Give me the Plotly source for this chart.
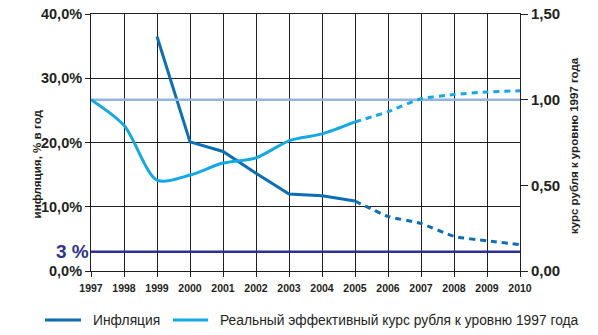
import plotly.graph_objects as go

# Годы и показатели
years = [1997, 1998, 1999, 2000, 2001, 2002, 2003, 2004, 2005, 2006, 2007, 2008, 2009, 2010]

# Инфляция, % в год (факт 1999–2005, прогноз 2005–2010)
infl_years_fact = [1999, 2000, 2001, 2002, 2003, 2004, 2005]
infl_fact = [36.5, 20.1, 18.6, 15.2, 12.0, 11.7, 10.9]
infl_years_fcst = [2005, 2006, 2007, 2008, 2009, 2010]
infl_fcst = [10.9, 8.5, 7.4, 5.4, 4.7, 4.1]

# Реальный эффективный курс рубля к уровню 1997 года
reer_years_fact = [1997, 1998, 1999, 2000, 2001, 2002, 2003, 2004, 2005]
reer_fact = [1.00, 0.85, 0.53, 0.56, 0.63, 0.66, 0.76, 0.80, 0.87]
reer_years_fcst = [2005, 2006, 2007, 2008, 2009, 2010]
reer_fcst = [0.87, 0.93, 1.005, 1.03, 1.045, 1.052]

target_inflation = 3.0
reer_base = 1.0

y_ticks = [0, 10, 20, 30, 40]
y_ticktext = ["0,0%", "10,0%", "20,0%", "30,0%", "40,0%"]
y2_ticks = [0, 0.5, 1.0, 1.5]
y2_ticktext = ["0,00", "0,50", "1,00", "1,50"]

legend_names = ["Инфляция", "Реальный эффективный курс рубля к уровню 1997 года"]

C_INFL = "#0a6fb5"
C_REER = "#12a9e6"
C_BASE = "#94b5e0"
C_TARGET = "#2e3192"
C_GRID = "#231f20"
FONT = "Liberation Sans"

# Поля области построения, px
L, R, T, B = 91, 78, 14, 64
W, H = 598, 335
PW, PH = W - L - R, H - T - B


def px_x(px):
    return (px - L) / PW


def px_y(py):
    return (H - B - py) / PH


fig = go.Figure()

# Базовый уровень курса (1997 = 1,00)
fig.add_trace(go.Scatter(
    x=[years[0], years[-1]], y=[reer_base, reer_base], yaxis="y2",
    mode="lines", line=dict(color=C_BASE, width=2.5), hoverinfo="skip"))

# Целевой уровень инфляции 3%
fig.add_trace(go.Scatter(
    x=[years[0], years[-1]], y=[target_inflation, target_inflation],
    mode="lines", line=dict(color=C_TARGET, width=2.5), hoverinfo="skip"))

fig.add_trace(go.Scatter(
    x=infl_years_fact, y=infl_fact, mode="lines",
    line=dict(color=C_INFL, width=3), name=legend_names[0]))
fig.add_trace(go.Scatter(
    x=infl_years_fcst, y=infl_fcst, mode="lines",
    line=dict(color=C_INFL, width=3, dash="6px,5px", shape="spline", smoothing=0.6)))

fig.add_trace(go.Scatter(
    x=reer_years_fact, y=reer_fact, yaxis="y2", mode="lines",
    line=dict(color=C_REER, width=3, shape="spline", smoothing=0.8),
    name=legend_names[1]))
fig.add_trace(go.Scatter(
    x=reer_years_fcst, y=reer_fcst, yaxis="y2", mode="lines",
    line=dict(color=C_REER, width=3, dash="6px,5px", shape="spline", smoothing=0.6)))

fig.update_layout(
    width=W, height=H,
    margin=dict(l=L, r=R, t=T, b=B, autoexpand=False),
    paper_bgcolor="white", plot_bgcolor="white",
    font=dict(family=FONT, color="#231f20"),
    showlegend=False,
    xaxis=dict(
        range=[1997, 2010], tickmode="array", tickvals=years,
        ticktext=[str(y) for y in years],
        tickfont=dict(size=10.5, weight="bold"),
        showgrid=True, gridcolor=C_GRID, gridwidth=1,
        showline=True, linecolor=C_GRID, linewidth=1, mirror=True,
        ticks="outside", ticklen=5, tickcolor=C_GRID, zeroline=False,
        ticklabelstandoff=2, automargin=False),
    yaxis=dict(
        range=[0, 40], tickmode="array", tickvals=y_ticks, ticktext=y_ticktext,
        tickfont=dict(size=14.5, weight="bold"),
        showgrid=True, gridcolor=C_GRID, gridwidth=1,
        showline=True, linecolor=C_GRID, linewidth=1, mirror=True,
        ticks="outside", ticklen=5, tickcolor=C_GRID, zeroline=False,
        automargin=False),
    yaxis2=dict(
        range=[0, 1.5], overlaying="y", side="right",
        tickmode="array", tickvals=y2_ticks, ticktext=y2_ticktext,
        tickfont=dict(size=15, weight="bold"),
        showgrid=False, showline=False, zeroline=False,
        ticks="outside", ticklen=7, tickcolor=C_GRID, automargin=False),
)

# Легенда: образцы линий и подписи
legend_items = [
    (45, 81, 91, C_INFL, legend_names[0]),
    (173, 208, 218, C_REER, legend_names[1]),
]
for x0, x1, xt, col, name in legend_items:
    fig.add_shape(type="line", xref="paper", yref="paper",
                  x0=px_x(x0), x1=px_x(x1), y0=px_y(320), y1=px_y(320),
                  line=dict(color=col, width=3))
    fig.add_annotation(text=name, xref="paper", yref="paper",
                       x=px_x(xt), y=px_y(320), xanchor="left", yanchor="middle",
                       showarrow=False, font=dict(size=13.8))

fig.add_annotation(
    text="инфляция, % в год", textangle=-90,
    xref="paper", yref="paper", x=px_x(28), y=px_y(164),
    showarrow=False, font=dict(size=11.6, weight="bold"))
fig.add_annotation(
    text="курс рубля к уровню 1997 года", textangle=-90,
    xref="paper", yref="paper", x=px_x(582), y=px_y(146),
    showarrow=False, font=dict(size=11.5, weight="bold"))
fig.add_annotation(
    text="3 %", xref="paper", yref="y", x=px_x(91), y=target_inflation,
    xanchor="right", showarrow=False,
    font=dict(size=19, weight="bold", color=C_TARGET))

fig.write_html("out.html")
